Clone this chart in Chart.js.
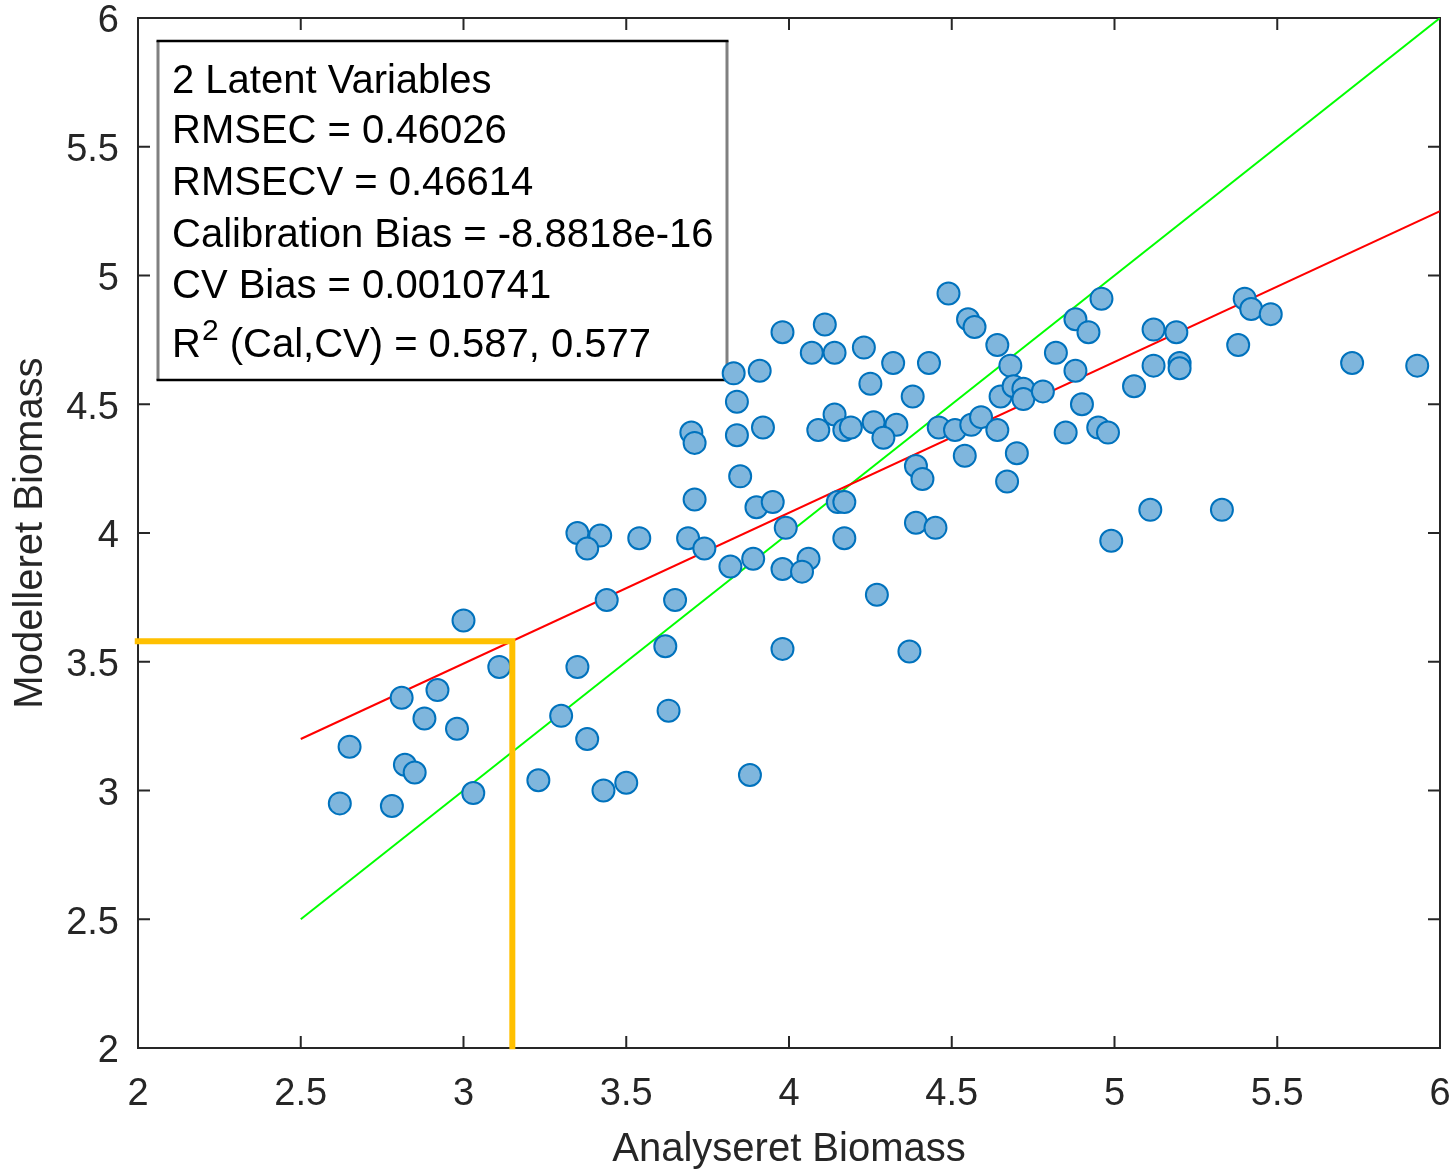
<!DOCTYPE html>
<html lang="da">
<head>
<meta charset="UTF-8">
<title>Analyseret vs. Modelleret Biomass</title>
<script src="https://cdn.jsdelivr.net/npm/chart.js"></script>
<style>
  html, body { margin: 0; padding: 0; background: #fff; }
  #wrap { width: 1455px; height: 1170px; }
</style>
</head>
<body>
<div id="wrap"><canvas id="biomassChart" width="1455" height="1170"></canvas></div>
<script>
// analysed (x) vs. modelled (y) biomass, one entry per sample
const analysed = [
  3.00, 3.11, 2.81, 2.92, 2.88, 2.98, 2.65, 2.82, 2.85, 2.62,
  2.78, 3.03, 3.35, 3.30, 3.38, 3.23, 3.35, 3.42, 3.38, 3.54,
  3.69, 3.74, 3.99, 4.17, 3.82, 3.89, 3.98, 4.06, 4.04, 3.44,
  3.65, 3.62, 3.98, 3.63, 3.88, 3.43, 3.50, 3.71, 3.90, 3.95,
  3.98, 4.11, 4.07, 4.14, 3.83, 3.91, 3.84, 3.70, 3.71, 3.84,
  3.92, 4.09, 4.14, 4.17, 4.19, 3.85, 4.15, 4.17, 4.49, 4.55,
  4.57, 4.64, 4.68, 4.23, 4.32, 4.43, 4.25, 4.38, 4.26, 4.33,
  4.29, 4.46, 4.51, 4.56, 4.59, 4.64, 4.65, 4.69, 4.72, 4.72,
  4.78, 4.96, 4.88, 4.92, 4.82, 4.88, 4.90, 4.85, 4.95, 4.98,
  4.70, 4.54, 4.39, 4.41, 4.67, 4.39, 4.45, 4.99, 4.27, 4.37,
  5.40, 5.42, 5.48, 5.12, 5.19, 5.38, 5.12, 5.20, 5.20, 5.06,
  5.73, 5.93, 5.11, 5.33
];
const modelled = [
  3.66, 3.48, 3.36, 3.39, 3.28, 3.24, 3.17, 3.10, 3.07, 2.95,
  2.94, 2.99, 3.48, 3.29, 3.20, 3.04, 4.00, 3.99, 3.94, 3.98,
  3.98, 3.94, 4.02, 3.98, 3.87, 3.90, 3.86, 3.90, 3.85, 3.74,
  3.74, 3.56, 3.55, 3.31, 3.06, 3.00, 3.03, 4.13, 4.10, 4.12,
  4.78, 4.81, 4.70, 4.70, 4.62, 4.63, 4.51, 4.39, 4.35, 4.38,
  4.41, 4.40, 4.46, 4.40, 4.41, 4.22, 4.12, 4.12, 4.93, 4.83,
  4.80, 4.73, 4.65, 4.72, 4.66, 4.66, 4.58, 4.53, 4.43, 4.42,
  4.37, 4.41, 4.40, 4.42, 4.45, 4.40, 4.53, 4.57, 4.56, 4.52,
  4.55, 4.91, 4.83, 4.78, 4.70, 4.63, 4.50, 4.39, 4.41, 4.39,
  4.31, 4.30, 4.26, 4.21, 4.20, 4.04, 4.02, 3.97, 3.76, 3.54,
  4.91, 4.87, 4.85, 4.79, 4.78, 4.73, 4.65, 4.66, 4.64, 4.57,
  4.66, 4.65, 4.09, 4.09
];

// calibration fit line and the y = x line
const fitX = [2.5, 6];
const fitY = [3.2, 5.25];
const refX = [2.5, 6];
const refY = [2.5, 6];

// orange read-off guide (x = 3.15 -> y = 3.58)
const guideX = [1.99, 3.15, 3.15];
const guideY = [3.58, 3.58, 1.995];

const tickValues = [2, 2.5, 3, 3.5, 4, 4.5, 5, 5.5, 6];
const tickLabels = ['2', '2.5', '3', '3.5', '4', '4.5', '5', '5.5', '6'];

const statsLines = [
  '2 Latent Variables',
  'RMSEC = 0.46026',
  'RMSECV = 0.46614',
  'Calibration Bias = -8.8818e-16',
  'CV Bias = 0.0010741',
  'R^2 (Cal,CV) = 0.587, 0.577'
];

const AXIS_COLOR = '#262626';
const FONT = "'Liberation Sans', Arial, Helvetica, sans-serif";

function toXY(xs, ys) {
  return xs.map((x, i) => ({ x: x, y: ys[i] }));
}

// white stats box in the upper left + the axes frame with inward ticks
const boxAndFrame = {
  id: 'boxAndFrame',
  beforeDatasetsDraw(chart) {
    const { ctx, chartArea: a, scales: { x, y } } = chart;
    ctx.save();

    // frame
    ctx.strokeStyle = AXIS_COLOR;
    ctx.lineWidth = 2;
    ctx.strokeRect(a.left, a.top, a.right - a.left, a.bottom - a.top);
    const len = 12;
    ctx.beginPath();
    tickValues.forEach(v => {
      const px = x.getPixelForValue(v);
      ctx.moveTo(px, a.bottom); ctx.lineTo(px, a.bottom - len);
      ctx.moveTo(px, a.top); ctx.lineTo(px, a.top + len);
      const py = y.getPixelForValue(v);
      ctx.moveTo(a.left, py); ctx.lineTo(a.left + len, py);
      ctx.moveTo(a.right, py); ctx.lineTo(a.right - len, py);
    });
    ctx.stroke();

    // text box
    const x0 = a.left + 20, y0 = a.top + 23, x1 = a.left + 589, y1 = a.top + 362;
    ctx.fillStyle = '#fff';
    ctx.fillRect(x0, y0, x1 - x0, y1 - y0);
    ctx.lineWidth = 3;
    ctx.strokeStyle = '#808080';
    ctx.beginPath();
    ctx.moveTo(x0, y0); ctx.lineTo(x0, y1);
    ctx.moveTo(x1, y0); ctx.lineTo(x1, y1);
    ctx.stroke();
    ctx.lineWidth = 2.5;
    ctx.strokeStyle = '#000';
    ctx.beginPath();
    ctx.moveTo(x0 - 1.5, y0); ctx.lineTo(x1 + 1.5, y0);
    ctx.moveTo(x0 - 1.5, y1); ctx.lineTo(x1 + 1.5, y1);
    ctx.stroke();

    ctx.fillStyle = '#000';
    ctx.textBaseline = 'alphabetic';
    ctx.textAlign = 'left';
    const baselines = [93, 143, 195, 247, 298, 357];
    const tx = x0 + 14;
    statsLines.forEach((line, i) => {
      const by = y0 + baselines[i] - 41;
      ctx.font = '40px ' + FONT;
      if (line.indexOf('^') === -1) {
        ctx.fillText(line, tx, by);
        return;
      }
      // superscript, e.g. R^2
      const head = line.slice(0, line.indexOf('^'));
      const sup = line.charAt(line.indexOf('^') + 1);
      const rest = line.slice(line.indexOf('^') + 2);
      ctx.fillText(head, tx, by);
      let cx = tx + ctx.measureText(head).width + 1;
      ctx.font = '30px ' + FONT;
      ctx.fillText(sup, cx, by - 17);
      cx += ctx.measureText(sup).width;
      ctx.font = '40px ' + FONT;
      ctx.fillText(rest, cx, by);
    });

    ctx.restore();
  }
};

const tickFont = { family: FONT, size: 38 };
const titleFont = { family: FONT, size: 40, lineHeight: 1 };

new Chart(document.getElementById('biomassChart').getContext('2d'), {
  type: 'scatter',
  data: {
    datasets: [
      {
        label: 'Guide',
        data: toXY(guideX, guideY),
        showLine: true,
        borderColor: '#FFC000',
        borderWidth: 6,
        borderCapStyle: 'butt',
        borderJoinStyle: 'miter',
        pointRadius: 0,
        fill: false,
        clip: false,
        order: 0
      },
      {
        label: 'Samples',
        data: toXY(analysed, modelled),
        backgroundColor: '#7FB6DD',
        borderColor: '#0072BD',
        borderWidth: 2,
        pointRadius: 11,
        pointHoverRadius: 11,
        order: 1
      },
      {
        label: 'Fit',
        data: toXY(fitX, fitY),
        showLine: true,
        borderColor: '#FF0000',
        borderWidth: 2,
        pointRadius: 0,
        fill: false,
        order: 2
      },
      {
        label: 'y = x',
        data: toXY(refX, refY),
        showLine: true,
        borderColor: '#00FF00',
        borderWidth: 2,
        pointRadius: 0,
        fill: false,
        order: 3
      }
    ]
  },
  options: {
    responsive: false,
    devicePixelRatio: 1,
    animation: false,
    events: [],
    layout: { padding: { top: 18, right: 15, left: 0, bottom: 0 } },
    plugins: {
      legend: { display: false },
      tooltip: { enabled: false }
    },
    scales: {
      x: {
        type: 'linear',
        min: 2,
        max: 6,
        grid: { display: false, drawTicks: false },
        border: { display: false },
        afterBuildTicks: s => { s.ticks = tickValues.map(v => ({ value: v })); },
        afterFit: s => {
          s.height = 122;
          s.paddingLeft = 0;
          s.paddingRight = 0;
        },
        ticks: {
          autoSkip: false,
          maxRotation: 0,
          padding: 24,
          color: AXIS_COLOR,
          font: tickFont,
          callback: (v, i) => tickLabels[i]
        },
        title: {
          display: true,
          text: 'Analyseret Biomass',
          color: AXIS_COLOR,
          font: titleFont,
          padding: { top: 0, bottom: 0 }
        }
      },
      y: {
        type: 'linear',
        min: 2,
        max: 6,
        grid: { display: false, drawTicks: false },
        border: { display: false },
        afterBuildTicks: s => { s.ticks = tickValues.map(v => ({ value: v })); },
        afterFit: s => {
          s.width = 138;
          s.paddingTop = 0;
          s.paddingBottom = 0;
        },
        ticks: {
          autoSkip: false,
          padding: 19,
          labelOffset: 4,
          color: AXIS_COLOR,
          font: tickFont,
          callback: (v, i) => tickLabels[i]
        },
        title: {
          display: true,
          text: 'Modelleret Biomass',
          color: AXIS_COLOR,
          font: titleFont,
          padding: { top: 11, bottom: 0 }
        }
      }
    }
  },
  plugins: [boxAndFrame]
});
</script>
</body>
</html>
